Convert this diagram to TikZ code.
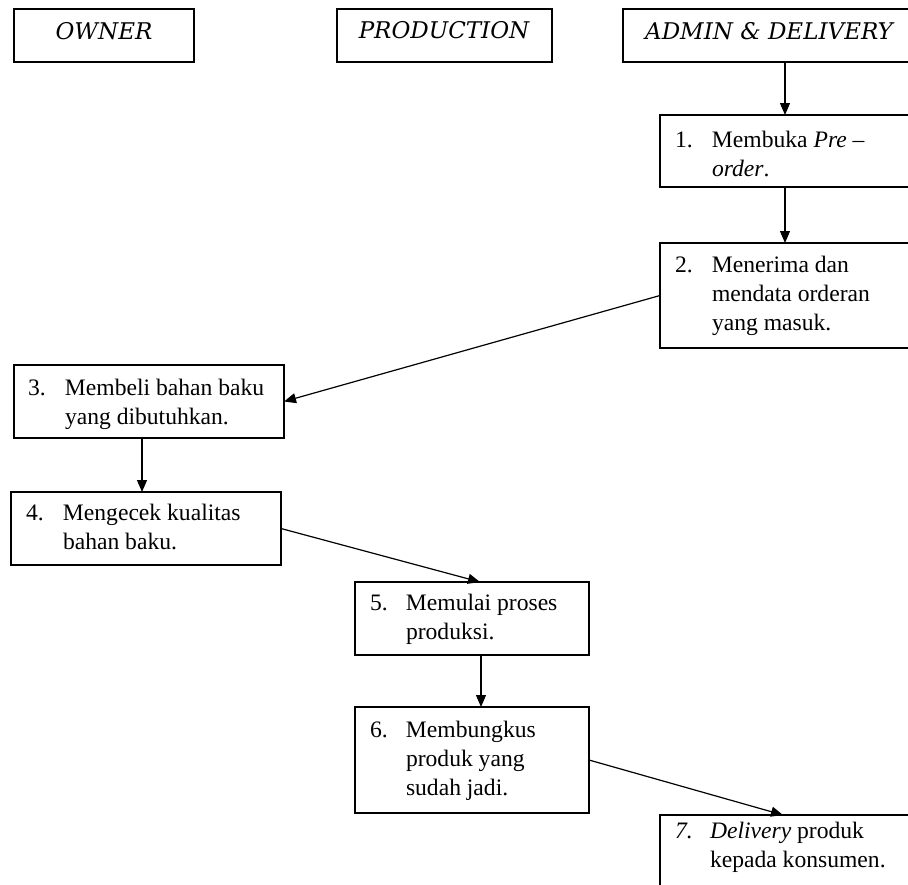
\documentclass[tikz,border=0pt]{standalone}
\usepackage{fontspec}
\setmainfont{Liberation Serif}
\newfontfamily\dvserif{DejaVu Serif}
\newcommand{\itx}[1]{{\dvserif\itshape #1}}
\usetikzlibrary{arrows.meta}
\tikzset{
  box/.style={draw=black, line width=1.4pt, rectangle, inner sep=0pt, outer sep=0pt, anchor=north west},
  lbl/.style={inner sep=0pt, outer sep=0pt, anchor=base west, font=\fontsize{23.6}{29}\selectfont},
  hdr/.style={inner sep=0pt, outer sep=0pt, anchor=base, font=\fontsize{23}{29}\selectfont},
  arr/.style={draw=black, line width=1.2pt, -{Triangle[length=12pt,width=10pt]}}
}
\newcommand{\steptext}[3]{\begin{tabular}[t]{@{}p{#1}@{}l@{}}#2 & #3\end{tabular}}
\begin{document}
\begin{tikzpicture}[x=1pt,y=-1pt]
\useasboundingbox (0,0) rectangle (908,884);
\clip (0,0) rectangle (908,884);

% header boxes
\node[box, minimum width=180pt, minimum height=53pt] (hOwner) at (14,9) {};
\node[box, minimum width=215pt, minimum height=53pt] (hProd) at (337,9) {};
\node[box, minimum width=300pt, minimum height=53pt] (hAdmin) at (623,9) {};
\node[hdr] (tOwner) at (104,39) {\itx{OWNER}};
\node[hdr] (tProd) at (444,38) {\itx{PRODUCTION}};
\node[hdr] (tAdmin) at (769,39) {\itx{ADMIN \& DELIVERY}};

% step boxes
\node[box, minimum width=260pt, minimum height=72pt] (b1) at (660,115) {};
\node[box, minimum width=260pt, minimum height=105pt] (b2) at (660,243) {};
\node[box, minimum width=270pt, minimum height=73pt] (b3) at (14,365) {};
\node[box, minimum width=270pt, minimum height=73pt] (b4) at (11,492) {};
\node[box, minimum width=234pt, minimum height=73pt] (b5) at (355,582) {};
\node[box, minimum width=234pt, minimum height=106pt] (b6) at (355,707) {};
\node[box, minimum width=260pt, minimum height=90pt] (b7) at (660,815) {};

% step texts
\node[lbl] (t1) at (675,147) {\steptext{37pt}{1.}{Membuka \textit{Pre –}\\ & \textit{order}.}};
\node[lbl] (t2) at (675,272) {\steptext{37pt}{2.}{Menerima dan\\ & mendata orderan\\ & yang masuk.}};
\node[lbl] (t3) at (28,395) {\steptext{37pt}{3.}{Membeli bahan baku\\ & yang dibutuhkan.}};
\node[lbl] (t4) at (26,520) {\steptext{37pt}{4.}{Mengecek kualitas\\ & bahan baku.}};
\node[lbl] (t5) at (370,610) {\steptext{36pt}{5.}{Memulai proses\\ & produksi.}};
\node[lbl] (t6) at (370,737) {\steptext{36pt}{6.}{Membungkus\\ & produk yang\\ & sudah jadi.}};
\node[lbl] (t7) at (675,838) {\steptext{35pt}{\textit{7.}}{\textit{Delivery} produk\\ & kepada konsumen.}};

% connectors
\draw[arr] ([xshift=162pt]hAdmin.south west) -- ([xshift=125pt]b1.north west);
\draw[arr] ([xshift=125pt]b1.south west) -- ([xshift=125pt]b2.north west);
\draw[arr] (b2.west) -- (b3.east);
\draw[arr] ([xshift=128pt]b3.south west) -- ([xshift=131pt]b4.north west);
\draw[arr] (b4.east) -- ([xshift=125pt]b5.north west);
\draw[arr] ([xshift=126pt]b5.south west) -- ([xshift=126pt]b6.north west);
\draw[arr] (b6.east) -- ([xshift=123pt]b7.north west);
\end{tikzpicture}
\end{document}
